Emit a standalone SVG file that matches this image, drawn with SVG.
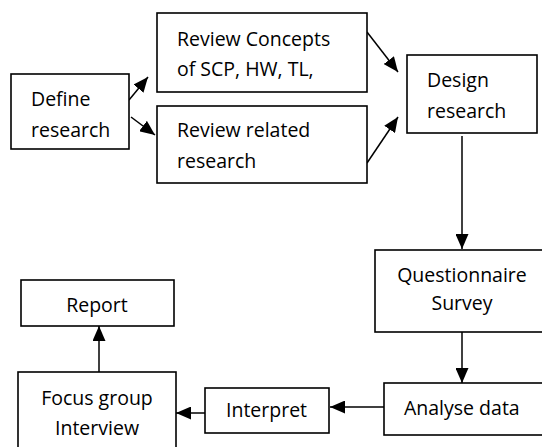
<svg xmlns="http://www.w3.org/2000/svg" width="542" height="447" viewBox="0 0 542 447">
<style>
rect.box{fill:#fff;stroke:#000;stroke-width:1.6}
text{font-family:"Open Sans","Liberation Sans",sans-serif;font-size:19.5px;fill:#000}
.c{stroke:#000;stroke-width:1.5;fill:none;marker-end:url(#ah)}
</style>
<defs>
<marker id="ah" markerUnits="userSpaceOnUse" markerWidth="15" markerHeight="13" viewBox="0 0 15 13" refX="15" refY="6.5" orient="auto">
<path d="M0,0 L15,6.5 L0,13 z" fill="#000"/>
</marker>
</defs>
<rect width="542" height="447" fill="#fff"/>
<g id="connectors">
<line class="c" x1="129" y1="100" x2="148" y2="77"/>
<line class="c" x1="131" y1="117" x2="155" y2="135"/>
<line class="c" x1="367" y1="32" x2="398" y2="72"/>
<line class="c" x1="367" y1="163" x2="398" y2="117"/>
<line class="c" x1="462" y1="136" x2="462" y2="249"/>
<line class="c" x1="462" y1="332" x2="462" y2="383"/>
<line class="c" x1="384" y1="407" x2="330" y2="407"/>
<line class="c" x1="205" y1="413" x2="176" y2="413"/>
<line class="c" x1="99" y1="372" x2="99" y2="326"/>
</g>
<g id="define">
<rect class="box" x="11" y="74" width="118" height="75"/>
<text x="31" y="106">Define</text>
<text x="31" y="137">research</text>
</g>
<g id="review-concepts">
<rect class="box" x="157" y="13" width="210" height="79"/>
<text x="177" y="46">Review Concepts</text>
<text x="177" y="76">of SCP, HW, TL,</text>
</g>
<g id="review-related">
<rect class="box" x="157" y="106" width="210" height="77"/>
<text x="177" y="137">Review related</text>
<text x="177" y="168">research</text>
</g>
<g id="design">
<rect class="box" x="407" y="55" width="130" height="78"/>
<text x="427" y="87">Design</text>
<text x="427" y="118">research</text>
</g>
<g id="questionnaire">
<rect class="box" x="375" y="250" width="170" height="82"/>
<text x="462" y="282" text-anchor="middle">Questionnaire</text>
<text x="462" y="310" text-anchor="middle">Survey</text>
</g>
<g id="analyse">
<rect class="box" x="384" y="383" width="162" height="52"/>
<text x="404" y="415">Analyse data</text>
</g>
<g id="interpret">
<rect class="box" x="205" y="388" width="124" height="45"/>
<text x="226" y="417">Interpret</text>
</g>
<g id="focus">
<rect class="box" x="18" y="372" width="158" height="80"/>
<text x="97" y="405" text-anchor="middle">Focus group</text>
<text x="97" y="435" text-anchor="middle">Interview</text>
</g>
<g id="report">
<rect class="box" x="21" y="280" width="153" height="46"/>
<text x="97" y="312" text-anchor="middle">Report</text>
</g>
</svg>
